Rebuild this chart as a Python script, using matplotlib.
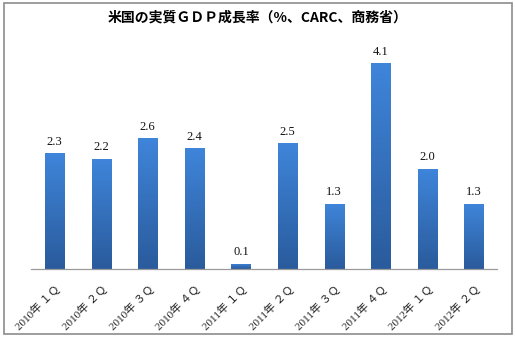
import numpy as np
import matplotlib
matplotlib.use("Agg")
import matplotlib.pyplot as plt
from matplotlib.patches import Rectangle

# Quarterly real GDP growth (annualized, %)
quarters = ["2010年 １Ｑ", "2010年 ２Ｑ", "2010年 ３Ｑ", "2010年 ４Ｑ",
            "2011年 １Ｑ", "2011年 ２Ｑ", "2011年 ３Ｑ", "2011年 ４Ｑ",
            "2012年 １Ｑ", "2012年 ２Ｑ"]
growth = [2.3, 2.2, 2.6, 2.4, 0.1, 2.5, 1.3, 4.1, 2.0, 1.3]

title = "米国の実質ＧＤＰ成長率（%、CARC、商務省）"

W, H = 515, 338
fig = plt.figure(figsize=(W / 100, H / 100), dpi=100)
fig.patch.set_facecolor("white")

# axes placed in pixel terms: baseline at y=269, x from 31 to 497
ax = fig.add_axes([31.2 / W, (H - 269) / H, (497.3 - 31.2) / W, 226 / H])

x = np.arange(len(growth))
bars = ax.bar(x, growth, width=0.41, color="none", edgecolor="none")

# vertical gradient fill for each bar
grad = np.linspace(0, 1, 256).reshape(-1, 1)
cmap = matplotlib.colors.LinearSegmentedColormap.from_list(
    "bar", ["#2a5b9c", "#3f85da"])
for b in bars:
    x0, y0 = b.get_x(), b.get_y()
    w, h = b.get_width(), b.get_height()
    im = ax.imshow(grad, cmap=cmap, aspect="auto", origin="lower",
                   extent=(x0, x0 + w, y0, y0 + h), zorder=2)
    im.set_clip_path(b)

ax.set_xlim(-0.5, len(growth) - 0.5)
ax.set_ylim(0, 4.5)

# value labels above bars
for xi, v in zip(x, growth):
    ax.annotate(f"{v:.1f}", (xi, v), xytext=(0, 4), textcoords="offset points",
                ha="center", va="bottom", fontsize=9,
                family=["Liberation Serif", "DejaVu Serif"], color="#111111")

for s in ["top", "right", "left"]:
    ax.spines[s].set_visible(False)
ax.spines["bottom"].set_color("#9a9a9a")
ax.spines["bottom"].set_linewidth(0.9)
ax.set_yticks([])
ax.set_xticks(x)
ax.set_xticklabels(quarters, rotation=45, ha="right", va="top",
                   rotation_mode="anchor", fontsize=8,
                   family=["Liberation Serif", "Noto Sans CJK JP"],
                   color="#222222")
ax.tick_params(axis="x", length=0, pad=10)

fig.text(0.5, 1 - 18 / H, title, ha="center", va="center", fontsize=10,
         fontweight="bold", family=["Noto Sans CJK JP", "DejaVu Sans"])

# outer frame
fig.patches.append(Rectangle((3.5 / W, 1 - 333.5 / H), 508 / W, 330.5 / H,
                             transform=fig.transFigure, fill=False,
                             edgecolor="#8c8c8c", linewidth=1.2))

fig.savefig("out.png", dpi=100)
